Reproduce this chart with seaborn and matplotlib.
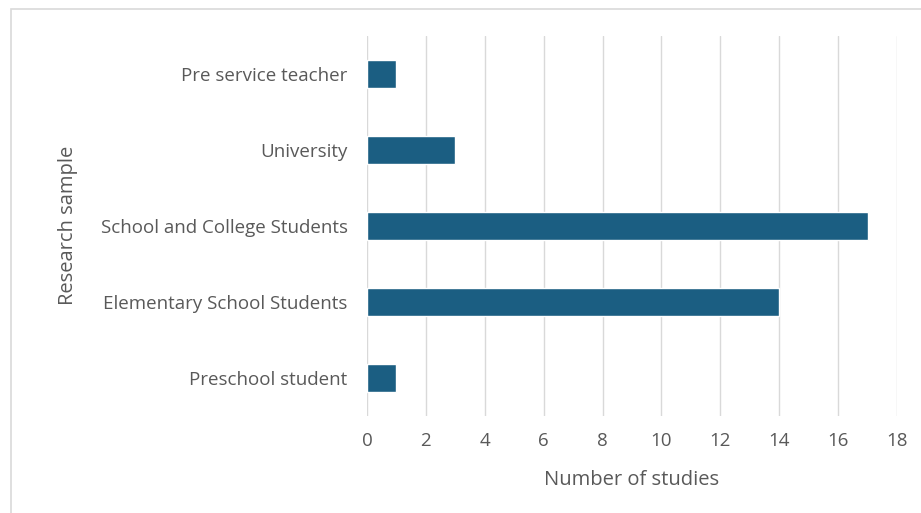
import matplotlib
matplotlib.use("Agg")
import matplotlib.pyplot as plt
import seaborn as sns
import pandas as pd
from matplotlib.patches import Rectangle

# data, listed top to bottom as drawn
samples = ["Pre service teacher", "University", "School and College Students",
           "Elementary School Students", "Preschool student"]
studies = [1, 3, 17, 14, 1]

df = pd.DataFrame({"sample": samples, "studies": studies})

sns.set_style("white")
plt.rcParams['font.family'] = ['Open Sans', 'DejaVu Sans']

fig = plt.figure(figsize=(9.21, 5.13), dpi=100)
ax = fig.add_axes([0.3985, 0.19, 0.5755, 0.74])

sns.barplot(data=df, x="studies", y="sample", orient="h", color="#1b5e82",
            width=0.37, saturation=1, ax=ax)

grey = "#595959"
ax.set_xlim(0, 18)
ax.set_xticks(range(0, 19, 2))
ax.xaxis.grid(True, color="#d9d9d9", linewidth=1)
ax.set_axisbelow(True)
for s in ax.spines.values():
    s.set_visible(False)
ax.tick_params(axis="both", length=0, labelsize=13.5, colors=grey)
ax.tick_params(axis="x", pad=12)
ax.tick_params(axis="y", pad=14)
ax.set_xlabel("Number of studies", fontsize=14.5, color=grey, labelpad=14)
ax.set_ylabel("Research sample", fontsize=14.5, color=grey, labelpad=16)

# light frame around the chart area
fig.patches.append(Rectangle((11 / 921, -0.01), 1.0, 1 - 9 / 513 + 0.01,
                             transform=fig.transFigure, fill=False,
                             edgecolor="#d9d9d9", linewidth=1.2))

fig.savefig("out.png", dpi=100)
